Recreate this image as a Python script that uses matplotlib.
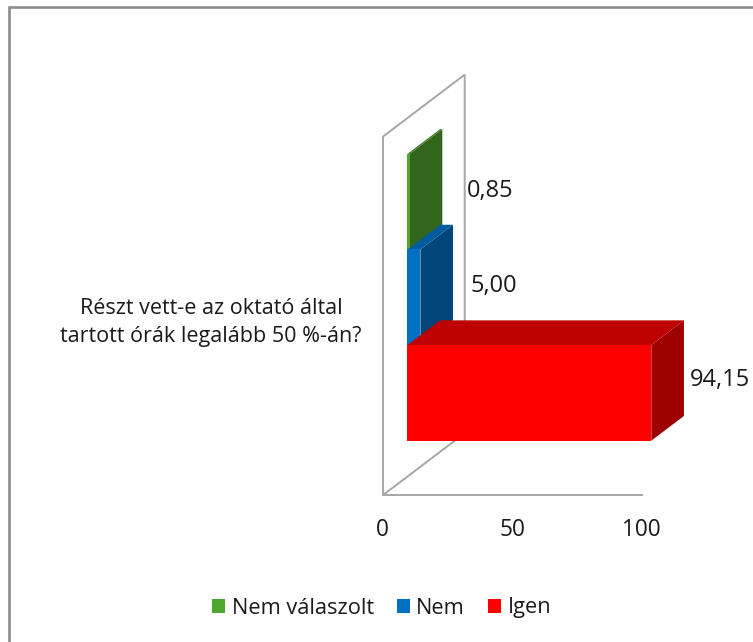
import matplotlib
matplotlib.use("Agg")
import matplotlib.pyplot as plt
from matplotlib.lines import Line2D
from matplotlib.patches import Polygon, Patch

W, H = 753, 642
plt.rcParams['font.family'] = ['Open Sans', 'Liberation Sans', 'DejaVu Sans']

question = "Részt vett-e az oktató által\ntartott órák legalább 50 %-án?"
series = ["Igen", "Nem", "Nem válaszolt"]
values = [94.15, 5.00, 0.85]
value_labels = ["94,15", "5,00", "0,85"]
ticks = [0, 50, 100]
front_colors = ["#FF0000", "#0070C0", "#4EA72E"]
top_colors = ["#BE0000", "#005C9E", "#3A7D22"]
side_colors = ["#9E0000", "#00467A", "#34651C"]
label_offsets = [(6, -12), (17, -13), (25, -14)]

GRID = "#A6A6A6"
TEXT = "#1A1A1A"
LEFT, RIGHT, BOTTOM, TOP = 382.7, 641.7, 495.3, 136.8

fig = plt.figure(figsize=(W / 100, H / 100), dpi=100, facecolor="white")
# outer chart frame: only the top and left edges are visible in the crop
fig.add_artist(Line2D([9 / W, 9 / W, 1], [0, 1 - 7 / H, 1 - 7 / H], transform=fig.transFigure,
                      color="#8C8C8C", lw=1.9, solid_joinstyle="miter"))
ax = fig.add_axes([LEFT / W, 1 - BOTTOM / H, (RIGHT - LEFT) / W, (BOTTOM - TOP) / H])
ax.patch.set_visible(False)
ax.set_xlim(0, 100)
ax.set_ylim(0, 3.75)
DX, DY = 31.66, 0.65      # full wall depth in data units


def proj(x, y, d):
    return (x + d * DX, y + d * DY)


# wall and floor edges
wall = [proj(0, 3.75, 0), proj(0, 3.75, 1), proj(0, 0, 1), proj(0, 0, 0)]
ax.add_patch(Polygon(wall, closed=False, fill=False, ec=GRID, lw=1.4, clip_on=False, zorder=1))

D0, D1 = 0.302, 0.70
for i, (v, lab, fc, tc, sc, off) in enumerate(zip(values, value_labels, front_colors, top_colors,
                                                  side_colors, label_offsets)):
    y0, y1 = 0.375 + i, 1.375 + i
    z = 5 - i
    ax.add_patch(Polygon([proj(v, y0, D0), proj(v, y1, D0), proj(v, y1, D1), proj(v, y0, D1)],
                         fc=sc, ec="none", clip_on=False, zorder=z))
    ax.add_patch(Polygon([proj(0, y1, D0), proj(v, y1, D0), proj(v, y1, D1), proj(0, y1, D1)],
                         fc=tc, ec="none", clip_on=False, zorder=z))
    ax.add_patch(Polygon([proj(0, y0, D0), proj(v, y0, D0), proj(v, y1, D0), proj(0, y1, D0)],
                         fc=fc, ec="none", clip_on=False, zorder=z))
    lx, ly = proj(v, (y0 + y1) / 2, D1)
    ax.annotate(lab, (lx, ly), xytext=off, textcoords="offset pixels", ha="left", va="center",
                fontsize=17, color=TEXT, annotation_clip=False)

for s in ("top", "right"):
    ax.spines[s].set_visible(False)
for s in ("left", "bottom"):
    ax.spines[s].set_color(GRID)
    ax.spines[s].set_linewidth(1.4)
ax.spines["left"].set_zorder(1)
ax.set_xticks(ticks)
ax.set_xticklabels([str(t) for t in ticks], fontsize=16.3, color=TEXT)
ax.tick_params(axis="x", length=0, pad=16)
ax.set_yticks([1.875])
ax.set_yticklabels([question], fontsize=15.5, color=TEXT, ma="center", linespacing=1.45)
ax.tick_params(axis="y", length=0, pad=15)

handles = [Patch(fc=c, ec="none") for c in reversed(front_colors)]
fig.legend(handles, list(reversed(series)), loc="center", bbox_to_anchor=(381.5 / W, 1 - 608 / H),
           ncol=3, frameon=False, fontsize=15.7, labelcolor=TEXT, handlelength=0.6, handleheight=0.6,
           handletextpad=0.3, columnspacing=1.05, borderpad=0, borderaxespad=0)

fig.savefig("out.png", dpi=100)
